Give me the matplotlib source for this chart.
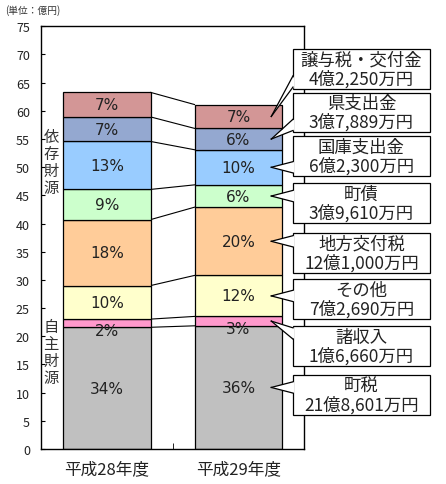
import matplotlib
matplotlib.use('Agg')
import matplotlib.pyplot as plt
from matplotlib.patches import Rectangle, Polygon
import numpy as np

plt.rcParams['font.family'] = ['Noto Sans CJK JP', 'DejaVu Sans']

# ==============================
# DATA (億円)
# ==============================
years = ["平成28年度", "平成29年度"]
items = ["町税", "諸収入", "その他", "地方交付税", "町債", "国庫支出金", "県支出金", "譲与税・交付金"]
h28_values = [21.6, 1.45, 5.95, 11.7, 5.35, 8.5, 4.35, 4.35]
h29_values = [21.8601, 1.666, 7.269, 12.1, 3.961, 6.23, 3.7889, 4.225]
h28_pct = ["34%", "2%", "10%", "18%", "9%", "13%", "7%", "7%"]
h29_pct = ["36%", "3%", "12%", "20%", "6%", "10%", "6%", "7%"]
h29_amounts = ["21億8,601万円", "1億6,660万円", "7億2,690万円", "12億1,000万円",
               "3億9,610万円", "6億2,300万円", "3億7,889万円", "4億2,250万円"]
colors = ["#C0C0C0", "#FF99CC", "#FFFFCC", "#FFCC99", "#CCFFCC", "#99CCFF", "#94A8D0", "#D39696"]

# callout box centres (y in data units), bottom to top
box_y = [9.6, 18.3, 26.6, 34.8, 43.6, 52.0, 59.7, 67.4]

# ==============================
# FIGURE
# ==============================
fig = plt.figure(figsize=(4.46, 4.85), dpi=100)
ax = fig.add_axes([0.092, 0.072, 0.590, 0.872])

width = 0.667
x = np.arange(len(years))
all_values = [h28_values, h29_values]
all_pct = [h28_pct, h29_pct]

for xi, vals, pcts in zip(x, all_values, all_pct):
    bottom = 0
    for i, v in enumerate(vals):
        ax.bar(xi, v, width, bottom=bottom, color=colors[i], edgecolor="black", linewidth=0.9, zorder=2)
        ty = bottom + v / 2
        if v < 2:
            ty = bottom - 0.5
        ax.text(xi, ty, pcts[i], ha="center", va="center", fontsize=11, color="#222222", zorder=4,
                family=["DejaVu Sans"])
        bottom += v

# connector lines between the bars
cum28 = np.cumsum(h28_values)
cum29 = np.cumsum(h29_values)
for a, b in zip(cum28, cum29):
    ax.plot([x[0] + width / 2, x[1] - width / 2], [a, b], color="black", linewidth=0.8, zorder=1)

# callouts for 平成29年度
box_left = 1.415
box_w = 1.04
box_h = 7.0
bottoms29 = cum29 - np.array(h29_values)
for i in range(len(items)):
    tip_x = x[1] + 0.25
    tip_y = bottoms29[i] + h29_values[i] / 2
    yc = box_y[i]
    rect = Rectangle((box_left, yc - box_h / 2), box_w, box_h, facecolor="white",
                     edgecolor="black", linewidth=0.9, clip_on=False, zorder=5)
    ax.add_patch(rect)
    base_c = min(max(tip_y, yc - box_h / 2 + 1.3), yc + box_h / 2 - 1.3)
    b1 = (box_left, base_c - 1.0)
    b2 = (box_left, base_c + 1.0)
    wedge = Polygon([(box_left + 0.01, b1[1]), (tip_x, tip_y), (box_left + 0.01, b2[1])],
                    closed=True, facecolor="white", edgecolor="none", clip_on=False, zorder=6)
    ax.add_patch(wedge)
    for b in (b1, b2):
        ax.plot([b[0], tip_x], [b[1], tip_y], color="black", linewidth=0.9, clip_on=False, zorder=7)
    ax.text(box_left + box_w / 2, yc, items[i] + "\n" + h29_amounts[i], ha="center", va="center",
            fontsize=12.5, linespacing=1.02, color="#222222", zorder=8)

# vertical group labels
ax.text(-0.424, 50.9, "\n".join("依存財源"), ha="center", va="center", fontsize=11,
        linespacing=1.0, color="#333333", zorder=4)
ax.text(-0.424, 17.2, "\n".join("自主財源"), ha="center", va="center", fontsize=11,
        linespacing=1.0, color="#333333", zorder=4)

ax.set_xlim(-0.5, 1.5)
ax.set_ylim(0, 75)
ax.set_yticks(range(0, 80, 5))
ax.set_xticks(x)
ax.set_xticklabels(years, fontsize=12, color="#222222")
ax.set_xticks([0.5], minor=True)
ax.tick_params(axis="x", which="major", length=0, pad=8)
ax.tick_params(axis="x", which="minor", direction="in", length=4)
ax.tick_params(axis="y", direction="in", length=3, labelsize=9, pad=8, labelcolor="#222222")
for sp in ax.spines.values():
    sp.set_linewidth(1.0)

fig.text(0.012, 0.978, "(単位：億円)", fontsize=7, ha="left", va="center", color="#333333")

plt.savefig("out.png", dpi=100)
